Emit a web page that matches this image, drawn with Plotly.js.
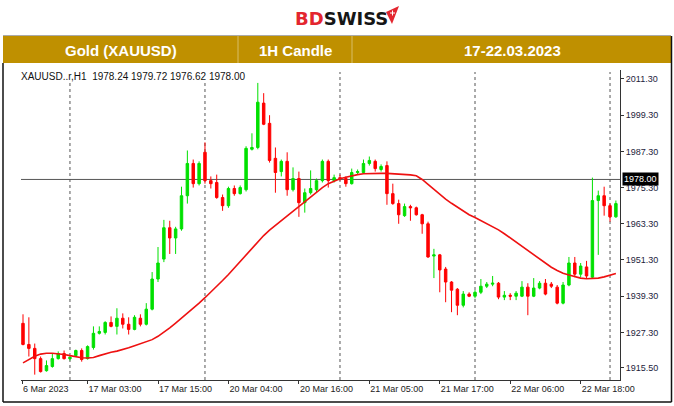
<!DOCTYPE html>
<html><head><meta charset="utf-8">
<script src="https://cdn.plot.ly/plotly-3.0.1.min.js"></script>
<style>html,body{margin:0;padding:0;background:#fff;}#chart{width:674px;height:406px;}</style>
</head><body><div id="chart"></div>
<script>
// ---- data ----
const openP = [
1930.3,1923.3,1922.0,1918.6,1914.6,1916.0,1918.6,1920.3,1918.6,1919.6,
1921.3,1918.6,1922.3,1927.0,1927.3,1930.6,1929.3,1932.0,1930.0,1928.3,
1932.0,1930.0,1935.0,1945.0,1951.6,1962.0,1958.6,1961.6,1972.6,1983.3,
1976.6,1987.0,1977.6,1977.0,1972.0,1969.3,1975.0,1973.3,1974.6,1988.0,
1988.6,2003.3,1996.6,1985.0,1980.6,1984.0,1974.6,1978.3,1970.3,1973.6,
1974.6,1977.6,1984.0,1977.6,1978.6,1978.3,1976.6,1980.3,1980.3,1983.3,
1984.0,1981.3,1982.6,1973.3,1970.0,1966.0,1969.0,1968.6,1966.3,1963.3,
1952.6,1953.0,1948.3,1944.0,1941.6,1936.3,1940.0,1939.3,1940.6,1942.6,
1943.3,1943.6,1939.0,1939.6,1939.3,1939.3,1942.3,1939.3,1942.0,1943.6,
1943.3,1942.3,1937.0,1943.0,1950.3,1946.6,1949.0,1945.6,1971.0,1972.6,
1969.3,1965.6];
const highP = [
1933.3,1932.3,1923.6,1919.3,1918.0,1920.3,1921.0,1921.3,1919.6,1921.6,
1922.0,1923.0,1929.3,1929.3,1931.0,1932.6,1935.3,1933.6,1932.3,1933.0,
1933.3,1937.0,1947.3,1955.6,1964.6,1964.3,1962.3,1975.6,1987.6,1984.6,
1984.0,1990.3,1979.0,1979.6,1973.0,1975.6,1976.0,1976.0,1989.0,1993.3,
2010.0,2006.6,1999.3,1988.6,1984.6,1987.0,1982.0,1980.6,1975.0,1981.0,
1978.3,1984.6,1984.6,1979.6,1979.6,1979.0,1981.6,1981.3,1984.6,1985.6,
1984.6,1983.0,1984.0,1976.6,1971.3,1970.0,1969.6,1969.0,1966.6,1964.0,
1955.0,1953.3,1949.0,1944.3,1942.0,1941.0,1940.6,1941.3,1945.0,1944.0,
1946.0,1944.0,1941.0,1940.3,1941.0,1944.3,1943.6,1945.3,1944.3,1945.0,
1944.0,1943.0,1944.0,1952.3,1952.3,1950.3,1951.0,1978.6,1974.3,1975.6,
1970.0,1971.0];
const lowP = [
1923.0,1919.3,1913.3,1914.0,1914.3,1915.6,1918.3,1918.3,1918.0,1919.3,
1917.6,1918.3,1921.6,1926.6,1926.6,1929.0,1926.6,1928.6,1926.6,1928.0,
1929.3,1929.6,1934.6,1944.0,1950.6,1953.3,1953.3,1961.0,1970.0,1975.3,
1976.0,1976.6,1975.0,1971.6,1967.6,1968.6,1972.6,1973.0,1974.0,1987.6,
1988.0,1996.0,1983.6,1973.6,1979.0,1972.6,1974.0,1965.6,1967.0,1973.0,
1973.6,1977.0,1975.3,1977.0,1977.6,1975.6,1976.3,1979.6,1980.0,1982.6,
1980.6,1980.6,1969.6,1969.6,1963.3,1965.6,1964.3,1966.0,1960.0,1952.0,
1945.3,1940.6,1937.3,1934.0,1933.0,1935.6,1939.0,1938.6,1940.0,1942.0,
1942.6,1938.3,1938.0,1938.0,1938.0,1939.0,1933.0,1939.0,1941.6,1939.6,
1942.0,1936.6,1936.6,1942.6,1945.6,1945.6,1945.0,1945.3,1953.0,1966.0,
1964.0,1965.3];
const closeP = [
1923.3,1922.0,1918.6,1914.3,1916.3,1918.6,1920.3,1918.6,1919.0,1921.3,
1918.3,1922.6,1927.0,1927.6,1930.6,1929.3,1932.0,1930.0,1928.3,1932.3,
1930.0,1935.0,1945.0,1950.3,1962.0,1958.6,1961.6,1972.6,1983.3,1976.6,
1983.3,1977.6,1976.6,1972.0,1969.3,1975.0,1973.3,1975.3,1988.3,1988.6,
2003.6,1996.3,1984.3,1980.3,1984.0,1974.6,1978.3,1970.3,1973.6,1975.0,
1977.6,1984.0,1977.6,1978.6,1978.3,1976.6,1980.3,1980.6,1983.3,1984.3,
1981.6,1982.3,1973.3,1970.0,1966.3,1969.0,1968.6,1966.3,1963.3,1952.3,
1953.0,1948.0,1944.0,1941.3,1936.3,1940.0,1939.3,1940.6,1942.6,1943.3,
1943.6,1939.0,1939.6,1939.3,1940.3,1942.3,1939.3,1942.0,1943.6,1940.0,
1942.6,1937.0,1943.0,1950.3,1946.6,1949.3,1946.0,1971.0,1972.6,1969.3,
1965.6,1970.0];
const movingAvg = [
1917.2,1918.4,1919.4,1920.1,1920.4,1920.4,1920.3,1920.0,1919.6,1919.2,
1918.9,1918.8,1919.0,1919.6,1920.2,1920.7,1921.1,1921.6,1922.2,1922.9,
1923.5,1924.1,1924.9,1926.0,1927.3,1928.8,1930.4,1932.0,1933.6,1935.3,
1937.0,1938.8,1940.6,1942.5,1944.5,1946.5,1948.7,1950.9,1953.1,1955.3,
1957.4,1959.4,1961.2,1962.8,1964.3,1965.9,1967.5,1969.1,1970.6,1972.1,
1973.7,1975.3,1976.6,1977.5,1978.2,1978.7,1979.2,1979.6,1979.9,1980.0,
1980.0,1980.0,1980.0,1979.9,1979.8,1979.7,1979.5,1979.2,1978.0,1976.4,
1974.7,1973.0,1971.5,1970.1,1968.8,1967.5,1966.3,1965.4,1964.4,1963.4,
1962.5,1961.3,1960.0,1958.6,1957.2,1955.8,1954.4,1953.0,1951.6,1950.2,
1948.9,1947.8,1946.9,1946.3,1945.8,1945.3,1945.1,1945.1,1945.3,1945.7,
1946.2,1946.8];
const timeTickBars = [-0.17, 11, 23, 35, 47, 59, 71, 83, 95];
const timeTickLabels = ['6 Mar 2023','17 Mar 03:00','17 Mar 15:00','20 Mar 04:00','20 Mar 16:00','21 Mar 05:00','21 Mar 17:00','22 Mar 06:00','22 Mar 18:00'];
const daySeparatorBars = [8, 31, 54, 77, 100];
const priceTicks = [2011.30, 1999.30, 1987.30, 1975.30, 1963.30, 1951.30, 1939.30, 1927.30, 1915.50];
const bidLevel = 1978.00;
const infoText = 'XAUUSD..r,H1&nbsp; 1978.24 1979.72 1976.62 1978.00';
const headerTexts = ['Gold (XAUUSD)', '1H Candle', '17-22.03.2023'];

// ---- layout geometry ----
const W = 674, H = 406, L = 21, R = 620, T = 70, B = 380;
function px(x){ return (x - L) / (R - L); }
function py(y){ return (B - y) / (B - T); }
const barIdx = openP.map((_, i) => i);
const GREEN = '#00e000', RED = '#ff0000';

const traces = [
  {
    type: 'candlestick', x: barIdx, open: openP, high: highP, low: lowP, close: closeP,
    increasing: {line: {color: GREEN, width: 1}, fillcolor: GREEN},
    decreasing: {line: {color: RED, width: 1}, fillcolor: RED},
    whiskerwidth: 0, hoverinfo: 'skip', showlegend: false
  },
  {
    type: 'scatter', mode: 'lines', x: barIdx, y: movingAvg,
    line: {color: '#ee1111', width: 1.6}, hoverinfo: 'skip', showlegend: false
  }
];

const shapes = [];
// bid line
shapes.push({type: 'line', xref: 'paper', yref: 'y', x0: 0, x1: 1, y0: bidLevel, y1: bidLevel,
  line: {color: '#555', width: 1}, layer: 'below'});
// day separators
daySeparatorBars.forEach(s => shapes.push({type: 'line', xref: 'x', yref: 'paper', x0: s, x1: s,
  y0: 0, y1: py(72), line: {color: '#555', width: 1, dash: 'dot'}, layer: 'below'}));
// gold header bar
shapes.push({type: 'rect', xref: 'paper', yref: 'paper', x0: px(3), x1: px(671), y0: py(63), y1: py(36),
  fillcolor: '#bf9000', line: {width: 0}});
shapes.push({type: 'line', xref: 'paper', yref: 'paper', x0: px(3), x1: px(671), y0: py(35.5), y1: py(35.5),
  line: {color: '#aaa', width: 1}});
[238, 352].forEach(d => shapes.push({type: 'line', xref: 'paper', yref: 'paper', x0: px(d), x1: px(d),
  y0: py(63), y1: py(36), line: {color: '#d8bd66', width: 1}}));
// frame
shapes.push({type: 'line', xref: 'paper', yref: 'paper', x0: px(3), x1: px(3), y0: py(63), y1: py(402), line: {color: '#111', width: 1.5}});
shapes.push({type: 'line', xref: 'paper', yref: 'paper', x0: px(3), x1: px(671.5), y0: py(402), y1: py(402), line: {color: '#111', width: 1.5}});
shapes.push({type: 'line', xref: 'paper', yref: 'paper', x0: px(671.5), x1: px(671.5), y0: py(36), y1: py(402), line: {color: '#111', width: 1.5}});
// logo arrow
shapes.push({type: 'path', xref: 'paper', yref: 'paper',
  path: `M ${px(386)} ${py(12)} L ${px(399)} ${py(6)} L ${px(392)} ${py(24)} Z`,
  fillcolor: '#e3262f', line: {width: 0}});
shapes.push({type: 'line', xref: 'paper', yref: 'paper', x0: px(390), x1: px(395), y0: py(13), y1: py(13), line: {color: '#fff', width: 1}});
shapes.push({type: 'line', xref: 'paper', yref: 'paper', x0: px(392.5), x1: px(392.5), y0: py(10.5), y1: py(15.5), line: {color: '#fff', width: 1}});

const hdrFont = {family: 'Liberation Sans, Arial, sans-serif', size: 15, color: '#ffffff'};
const annotations = [
  {xref: 'paper', yref: 'paper', x: px(293), y: py(18), xanchor: 'left', yanchor: 'middle', showarrow: false,
   text: '<b><span style="color:#e3262f">BD</span>SWISS</b>',
   font: {family: 'DejaVu Sans, sans-serif', size: 18, color: '#161616'}},
  {xref: 'paper', yref: 'paper', x: px(121), y: py(50), xanchor: 'center', yanchor: 'middle', showarrow: false, text: '<b>' + headerTexts[0] + '</b>', font: hdrFont},
  {xref: 'paper', yref: 'paper', x: px(295), y: py(50), xanchor: 'center', yanchor: 'middle', showarrow: false, text: '<b>' + headerTexts[1] + '</b>', font: hdrFont},
  {xref: 'paper', yref: 'paper', x: px(512), y: py(50), xanchor: 'center', yanchor: 'middle', showarrow: false, text: '<b>' + headerTexts[2] + '</b>', font: hdrFont},
  {xref: 'paper', yref: 'paper', x: px(20), y: py(76), xanchor: 'left', yanchor: 'middle', showarrow: false,
   text: infoText, bgcolor: '#ffffff', borderpad: 0,
   font: {family: 'Liberation Sans, Arial, sans-serif', size: 10, color: '#111'}},
  {xref: 'paper', yref: 'y', x: px(622), y: bidLevel, xanchor: 'left', yanchor: 'middle', showarrow: false,
   text: bidLevel.toFixed(2), bgcolor: '#000000', borderpad: 1,
   font: {family: 'Liberation Sans, Arial, sans-serif', size: 9, color: '#ffffff'}}
];

const layout = {
  width: W, height: H,
  margin: {l: L, r: W - R, t: T, b: H - B, pad: 0},
  paper_bgcolor: '#ffffff', plot_bgcolor: '#ffffff',
  showlegend: false, boxgap: 0.4,
  xaxis: {
    type: 'linear', range: [-0.34, 101.7], showgrid: false, zeroline: false,
    showline: true, linecolor: '#333', linewidth: 1,
    ticks: 'outside', ticklen: 3, tickcolor: '#333',
    tickvals: timeTickBars, ticktext: timeTickLabels, ticklabelposition: 'outside right',
    tickfont: {family: 'Liberation Sans, Arial, sans-serif', size: 9, color: '#222'},
    rangeslider: {visible: false}, fixedrange: true
  },
  yaxis: {
    side: 'right', range: [1911.52, 2014.28], showgrid: false, zeroline: false,
    showline: true, linecolor: '#333', linewidth: 1,
    ticks: 'outside', ticklen: 3, tickcolor: '#333',
    tickvals: priceTicks, ticktext: priceTicks.map(v => v.toFixed(2)),
    tickfont: {family: 'Liberation Sans, Arial, sans-serif', size: 9, color: '#1c1c3c'},
    fixedrange: true
  },
  shapes: shapes, annotations: annotations
};

Plotly.newPlot('chart', traces, layout, {staticPlot: true, displayModeBar: false});
</script></body></html>
